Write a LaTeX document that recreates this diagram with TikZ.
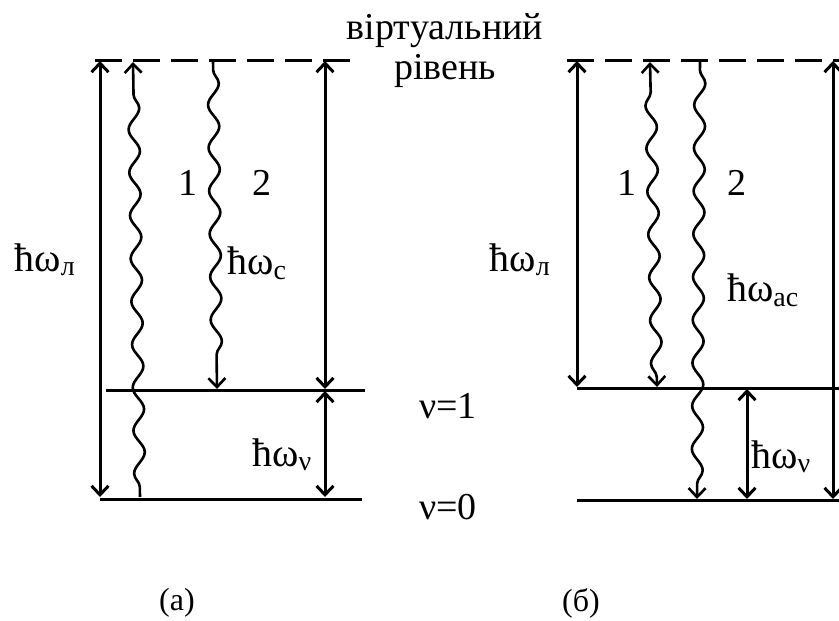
\documentclass[tikz,border=0pt]{standalone}
\usepackage{fontspec}
\setmainfont{Liberation Serif}
\usetikzlibrary{arrows.meta,decorations.pathmorphing}

\begin{document}
\begin{tikzpicture}[x=1pt,y=-1pt,>={Straight Barb[length=9pt,width=17pt]},
    thk/.style={line width=3pt},
    virt/.style={line width=3pt,dash pattern=on 27pt off 11pt},
    wav/.style={line width=2.6pt,decorate,decoration={snake,amplitude=5.5pt,segment length=43pt,pre length=10pt,post length=14pt}},
    num/.style={font=\fontsize{38}{38}\selectfont},
    en/.style={font=\fontsize{40}{40}\selectfont},
    lvl/.style={font=\fontsize{38}{38}\selectfont},
    capt/.style={font=\fontsize{32}{32}\selectfont}]
  \useasboundingbox (0,0) rectangle (839,621);
  % (а)
  \coordinate (av1) at (95,60);   \coordinate (av2) at (353,60);
  \coordinate (ao1) at (106,390); \coordinate (ao2) at (365,390);
  \coordinate (az1) at (100,499); \coordinate (az2) at (362,499);
  \coordinate (aLt) at (100,61);  \coordinate (aLb) at (100,497);
  \coordinate (a1b) at (140,497); \coordinate (a1t) at (133,62);
  \coordinate (a2t) at (213,60);  \coordinate (a2b) at (217,389);
  \coordinate (aRt) at (325,61);  \coordinate (aRb) at (325,389);
  \coordinate (aVt) at (325,391); \coordinate (aVb) at (325,497);
  \draw[virt] (av1) -- (av2);
  \draw[thk] (ao1) -- (ao2);
  \draw[thk] (az1) -- (az2);
  \draw[thk,<->] (aLt) -- (aLb);
  \draw[wav,->] (a1b) -- (a1t);
  \draw[wav,->] (a2t) -- (a2b);
  \draw[thk,<->] (aRt) -- (aRb);
  \draw[thk,<->] (aVt) -- (aVb);
  \node[en] (al) at (45,260) {ħω\textsubscript{л}};
  \node[num] (an1) at (188,183) {1};
  \node[num] (an2) at (262,183) {2};
  \node[en] (ac) at (257,263) {ħω\textsubscript{с}};
  \node[en] (av) at (282,455) {ħω\textsubscript{ν}};
  % middle
  \node[lvl] (vr1) at (445,31) {віртуальний};
  \node[lvl] (vr2) at (445,71) {рівень};
  \node[lvl] (n1) at (448,406) {ν=1};
  \node[lvl] (n0) at (448,507) {ν=0};
  % (б)
  \coordinate (bv1) at (567,60);  \coordinate (bv2) at (839,60);
  \coordinate (bo1) at (577,388); \coordinate (bo2) at (839,388);
  \coordinate (bz1) at (577,500); \coordinate (bz2) at (839,500);
  \coordinate (bLt) at (577,61);  \coordinate (bLb) at (577,387);
  \coordinate (b1b) at (657,387); \coordinate (b1t) at (650,62);
  \coordinate (b2t) at (700,60);  \coordinate (b2b) at (697,499);
  \coordinate (bRt) at (833,61);  \coordinate (bRb) at (833,499);
  \coordinate (bVt) at (747,389); \coordinate (bVb) at (747,499);
  \draw[virt] (bv1) -- (bv2);
  \draw[thk] (bo1) -- (bo2);
  \draw[thk] (bz1) -- (bz2);
  \draw[thk,<->] (bLt) -- (bLb);
  \draw[wav,<->] (b1b) -- (b1t);
  \draw[wav,->] (b2t) -- (b2b);
  \draw[thk,<->] (bRt) -- (bRb);
  \draw[thk,<->] (bVt) -- (bVb);
  \node[en] (bl) at (520,260) {ħω\textsubscript{л}};
  \node[num] (bn1) at (627,183) {1};
  \node[num] (bn2) at (737,183) {2};
  \node[en] (bac) at (763,290) {ħω\textsubscript{ас}};
  \node[en] (bv) at (781,457) {ħω\textsubscript{ν}};
  % captions
  \node[capt] (ca) at (177,603) {(а)};
  \node[capt] (cb) at (581,603) {(б)};
\end{tikzpicture}
\end{document}
